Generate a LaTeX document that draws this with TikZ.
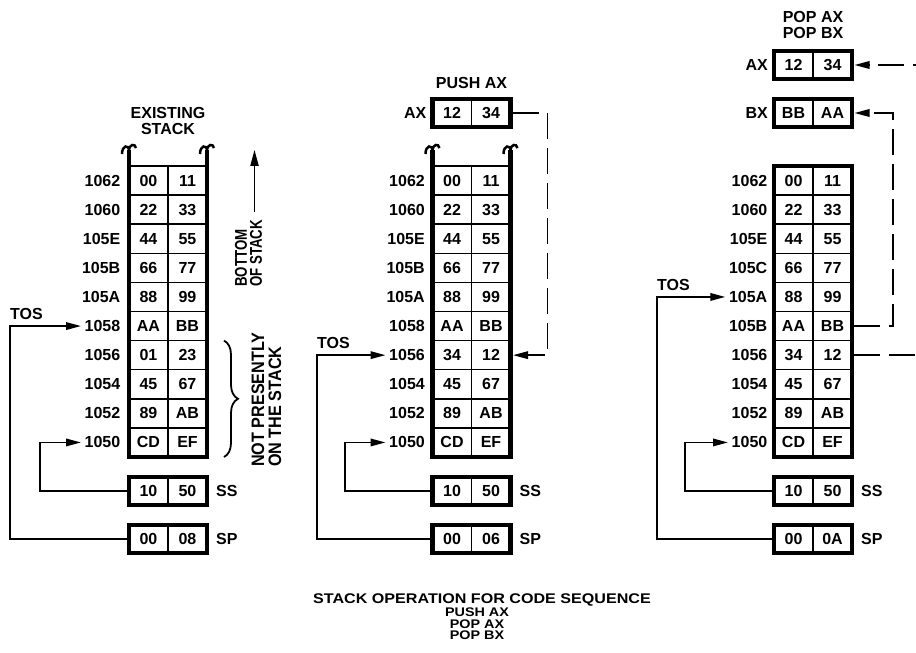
\documentclass[tikz,border=0pt]{standalone}
\usepackage{fontspec}
\setmainfont{Liberation Sans}
\newfontfamily\narrowfont[FakeStretch=0.78]{Liberation Sans}
\newfontfamily\slimfont[FakeStretch=0.9]{Liberation Sans}
\newfontfamily\widefont[FakeStretch=1.15]{Liberation Sans}
\usetikzlibrary{positioning, arrows.meta, decorations.pathreplacing}

\begin{document}
\begin{tikzpicture}[x=1pt, y=-1pt, >={Triangle[length=15pt,width=7.5pt]},
    cell/.style={draw, line width=1.5pt, minimum width=39pt, minimum height=29.1pt,
      inner sep=0pt, outer sep=0pt, font=\fontsize{16}{16}\selectfont\bfseries},
    regcell/.style={cell, minimum height=28pt},
    addr/.style={inner sep=1.5pt, font=\fontsize{16}{16}\selectfont\bfseries},
    lbl/.style={inner sep=0pt, font=\fontsize{16}{16}\selectfont\bfseries},
    stackframe/.style={line width=4.5pt},
    link/.style={line width=1.8pt},
    dashlink/.style={line width=1.8pt, dash pattern=on 26pt off 9pt},
    hookline/.style={line width=2.5pt}
  ]
  \useasboundingbox (0,0) rectangle (916,653);
  \clip (0,0) rectangle (916,653);

  % existing stack
  \node[lbl, align=center, anchor=north] (ex-title) at (168,107) {EXISTING\\STACK};
  \foreach \a/\l/\r [count=\i] in {1062/00/11, 1060/22/33, 105E/44/55, 105B/66/77, 105A/88/99,
      1058/AA/BB, 1056/01/23, 1054/45/67, 1052/89/AB, 1050/CD/EF}{
    \node[cell] (ex-l-\i) at (148.5,{151.45+29.1*\i}) {\l};
    \node[cell, right=0pt of ex-l-\i] (ex-r-\i) {\r};
    \node[addr, left=7pt of ex-l-\i] (ex-a-\i) {\a};
  }
  \node[regcell] (ex-ss-l) at (148.5,491) {10};
  \node[regcell, right=0pt of ex-ss-l] (ex-ss-r) {50};
  \node[lbl, right=9pt of ex-ss-r] (ex-ss) {SS};
  \node[regcell] (ex-sp-l) at (148.5,539) {00};
  \node[regcell, right=0pt of ex-sp-l] (ex-sp-r) {08};
  \node[lbl, right=9pt of ex-sp-r] (ex-sp) {SP};
  \node[lbl, anchor=base west] (ex-tos) at (10,319) {TOS};

  \draw[link, ->, shorten >=2pt] (ex-sp-l.west) -- ++(-119,0) |- (ex-a-6.west);
  \draw[link, ->, shorten >=2pt] (ex-ss-l.west) -- ++(-89,0) |- (ex-a-10.west);
  \draw[stackframe] ([yshift=16pt]ex-l-1.north west) coordinate (ex-tl) -- (ex-l-10.south west)
    -- (ex-r-10.south east) -- ([yshift=16pt]ex-r-1.north east) coordinate (ex-tr);
  \draw[stackframe] (ex-ss-l.north west) rectangle (ex-ss-r.south east);
  \draw[stackframe] (ex-sp-l.north west) rectangle (ex-sp-r.south east);

  % notes beside it
  \node[lbl, font=\fontsize{17}{15}\selectfont\narrowfont\bfseries, rotate=90, align=left,
    anchor=west] (bot) at (248.5,287) {BOTTOM\\OF STACK};
  \draw[link, ->, >={Triangle[length=16pt,width=8pt]}] ([xshift=6pt,yshift=8pt]bot.east) -- ++(0,-62);
  \draw[link, decorate, decoration={brace, amplitude=14pt}]
    ([xshift=17pt]ex-r-7.north east) -- ([xshift=17pt]ex-r-10.south east);
  \node[lbl, font=\fontsize{18}{17}\selectfont\slimfont\bfseries, rotate=90, align=left,
    anchor=west] (notp) at (266.5,467) {NOT PRESENTLY\\ON THE STACK};

  % after push ax
  \node[lbl, anchor=north] (pu-title) at (471.5,77) {PUSH AX};
  \node[regcell] (pu-ax-l) at (452,113) {12};
  \node[regcell, right=0pt of pu-ax-l] (pu-ax-r) {34};
  \node[lbl, left=6pt of pu-ax-l] (pu-ax) {AX};
  \foreach \a/\l/\r [count=\i] in {1062/00/11, 1060/22/33, 105E/44/55, 105B/66/77, 105A/88/99,
      1058/AA/BB, 1056/34/12, 1054/45/67, 1052/89/AB, 1050/CD/EF}{
    \node[cell] (pu-l-\i) at (452,{151.45+29.1*\i}) {\l};
    \node[cell, right=0pt of pu-l-\i] (pu-r-\i) {\r};
    \node[addr, left=6pt of pu-l-\i] (pu-a-\i) {\a};
  }
  \node[regcell] (pu-ss-l) at (452,491) {10};
  \node[regcell, right=0pt of pu-ss-l] (pu-ss-r) {50};
  \node[lbl, right=9pt of pu-ss-r] (pu-ss) {SS};
  \node[regcell] (pu-sp-l) at (452,539) {00};
  \node[regcell, right=0pt of pu-sp-l] (pu-sp-r) {06};
  \node[lbl, right=9pt of pu-sp-r] (pu-sp) {SP};
  \node[lbl, anchor=base west] (pu-tos) at (317,348) {TOS};

  \draw[link, ->, shorten >=2pt] (pu-sp-l.west) -- ++(-115.5,0) |- (pu-a-7.west);
  \draw[link, ->, shorten >=2pt] (pu-ss-l.west) -- ++(-87.5,0) |- (pu-a-10.west);
  \draw[dashlink, ->] ([xshift=2pt]pu-ax-r.east) -- ++(35,0) |- ([xshift=2.5pt]pu-r-7.east);
  \draw[stackframe] ([yshift=16pt]pu-l-1.north west) coordinate (pu-tl) -- (pu-l-10.south west)
    -- (pu-r-10.south east) -- ([yshift=16pt]pu-r-1.north east) coordinate (pu-tr);
  \draw[stackframe] (pu-ax-l.north west) rectangle (pu-ax-r.south east);
  \draw[stackframe] (pu-ss-l.north west) rectangle (pu-ss-r.south east);
  \draw[stackframe] (pu-sp-l.north west) rectangle (pu-sp-r.south east);

  % broken tops of the open stacks
  \foreach \t in {ex-tl, ex-tr, pu-tl, pu-tr}
    \draw[hookline, shift={(\t)}] (-7,4) .. controls (-7,-5) and (0,-6) .. (0,1)
      .. controls (0,-6) and (6,-7) .. (7,-2);

  % after pop ax, pop bx
  \node[lbl, align=center, anchor=north] (po-title) at (813,11) {POP AX\\POP BX};
  \node[regcell] (po-ax-l) at (793.5,65) {12};
  \node[regcell, right=0pt of po-ax-l] (po-ax-r) {34};
  \node[lbl, left=6pt of po-ax-l] (po-ax) {AX};
  \node[regcell] (po-bx-l) at (793.5,113) {BB};
  \node[regcell, right=0pt of po-bx-l] (po-bx-r) {AA};
  \node[lbl, left=6pt of po-bx-l] (po-bx) {BX};
  \foreach \a/\l/\r [count=\i] in {1062/00/11, 1060/22/33, 105E/44/55, 105C/66/77, 105A/88/99,
      105B/AA/BB, 1056/34/12, 1054/45/67, 1052/89/AB, 1050/CD/EF}{
    \node[cell] (po-l-\i) at (793.5,{151.45+29.1*\i}) {\l};
    \node[cell, right=0pt of po-l-\i] (po-r-\i) {\r};
    \node[addr, left=5pt of po-l-\i] (po-a-\i) {\a};
  }
  \node[regcell] (po-ss-l) at (793.5,491) {10};
  \node[regcell, right=0pt of po-ss-l] (po-ss-r) {50};
  \node[lbl, right=9pt of po-ss-r] (po-ss) {SS};
  \node[regcell] (po-sp-l) at (793.5,539) {00};
  \node[regcell, right=0pt of po-sp-l] (po-sp-r) {0A};
  \node[lbl, right=9pt of po-sp-r] (po-sp) {SP};
  \node[lbl, anchor=base west] (po-tos) at (657,290) {TOS};

  \draw[link, ->, shorten >=2pt] (po-sp-l.west) -- ++(-117,0) |- (po-a-5.west);
  \draw[link, ->, shorten >=2pt] (po-ss-l.west) -- ++(-89,0) |- (po-a-10.west);
  \draw[dashlink, ->] ([xshift=2pt]po-r-6.east) -- ++(39,0) |- ([xshift=2.5pt]po-bx-r.east);
  \draw[dashlink, ->] ([xshift=2pt]po-r-7.east) -- ++(90,0) |- ([xshift=2.5pt]po-ax-r.east);
  \draw[stackframe] (po-l-1.north west) rectangle (po-r-10.south east);
  \draw[stackframe] (po-ax-l.north west) rectangle (po-ax-r.south east);
  \draw[stackframe] (po-bx-l.north west) rectangle (po-bx-r.south east);
  \draw[stackframe] (po-ss-l.north west) rectangle (po-ss-r.south east);
  \draw[stackframe] (po-sp-l.north west) rectangle (po-sp-r.south east);

  % caption
  \node[lbl, font=\fontsize{14}{14}\selectfont\widefont\bfseries, anchor=base] (cap) at (482,603)
    {STACK OPERATION FOR CODE SEQUENCE};
  \node[lbl, font=\fontsize{12.5}{11.5}\selectfont\widefont\bfseries, align=center, anchor=north]
    (code) at (477,608) {PUSH AX\\POP AX\\POP BX};
\end{tikzpicture}
\end{document}
